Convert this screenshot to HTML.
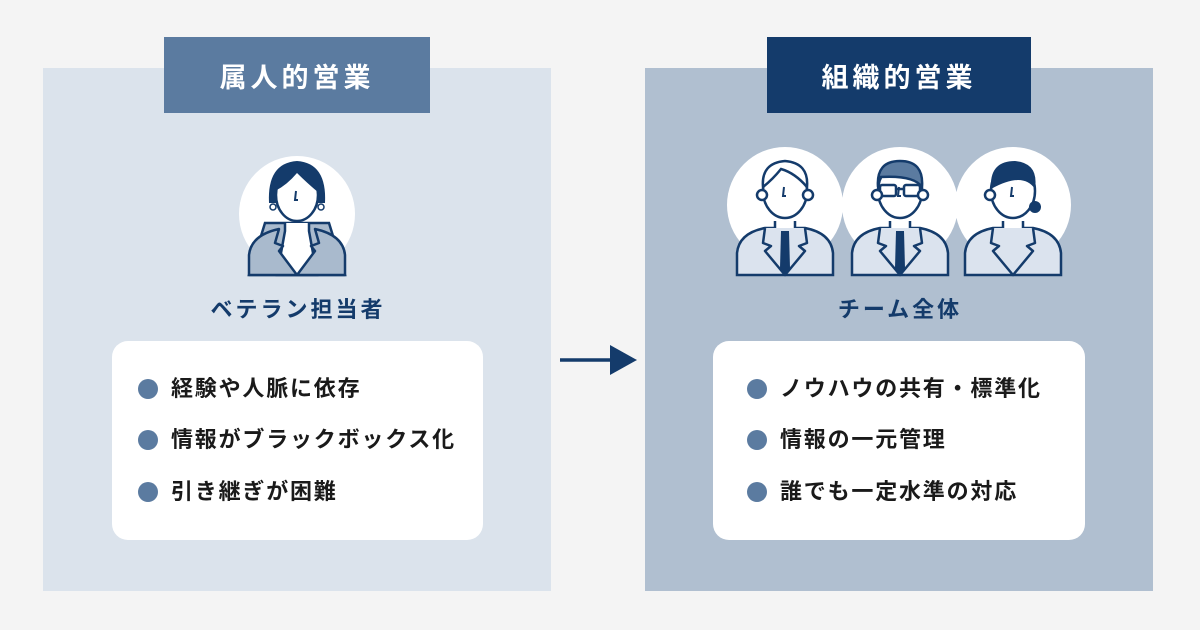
<!DOCTYPE html>
<html><head><meta charset="utf-8"><style>
body{margin:0;width:1200px;height:630px;background:#f4f4f4;position:relative;overflow:hidden;font-family:"Liberation Sans","Noto Sans CJK JP",sans-serif;font-weight:700}
.abs{position:absolute}
.panel{top:68px;width:508px;height:523px}
.hdr{top:37px;height:76px;color:#fff;font-size:27px;letter-spacing:4px;display:flex;align-items:center;justify-content:center}
.lbl{top:292px;font-size:22px;letter-spacing:3px;color:#143b6b;text-align:center;width:300px}
.box{top:341px;height:199px;background:#fff;border-radius:16px}
.item{position:absolute;font-size:22px;letter-spacing:1.8px;color:#1a1a1a;line-height:30px}
.item:before{content:"";position:absolute;left:-33px;top:5px;width:20px;height:20px;border-radius:50%;background:#5b7ba0}
</style></head><body>
<div class="abs panel" style="left:43px;background:#dbe3ec"></div>
<div class="abs panel" style="left:645px;background:#b0bfd0"></div>
<div class="abs hdr" style="left:164px;width:266px;background:#5b7ba0">属人的営業</div>
<div class="abs hdr" style="left:767px;width:264px;background:#143b6b">組織的営業</div>

<svg class="abs" style="left:0;top:0" width="1200" height="630" viewBox="0 0 1200 630">
<defs>
<g id="body">
<path d="M-48,62 L-48,40 Q-46,20 -20,15 L20,15 Q46,20 48,40 L48,62 Z" fill="#dbe3ee" stroke="#143b6b" stroke-width="2.5"/>
<path d="M-10,8 L-10,18 L10,18 L10,8" fill="#fff" stroke="#143b6b" stroke-width="2.5"/>
<path d="M-20,15 L-22,30 L-14,33 L-20,38 L0,62 L20,38 L14,33 L22,30 L20,15" fill="#dbe3ee" stroke="#143b6b" stroke-width="2.5" stroke-linejoin="round"/>
</g>
<g id="head">
<ellipse cx="0" cy="-22" rx="22" ry="27" fill="#fff" stroke="#143b6b" stroke-width="2.5"/>
<path d="M-1,-26 L-2,-17 L1,-17" fill="none" stroke="#143b6b" stroke-width="2"/>
</g>
</defs>
<!-- left person -->
<circle cx="297" cy="214" r="58" fill="#fff"/>
<g transform="translate(297,213)">
<path d="M-28,-10 Q-30,-50 0,-52 Q30,-50 28,-10 Z" fill="#143b6b"/>
<path d="M-32,10 L-48,62 L48,62 L32,10 Z" fill="#a9bacd" stroke="#143b6b" stroke-width="2.5"/>
<path d="M-12,10 L-12,18 L-20,62 L20,62 L12,18 L12,10" fill="#fff" stroke="#143b6b" stroke-width="2.5"/>
<path d="M-48,62 L-48,42 Q-46,22 -18,16 L-22,30 L-14,33 L-18,38 L0,62 Z M48,62 L48,42 Q46,22 18,16 L22,30 L14,33 L18,38 L0,62 Z" fill="#a9bacd" stroke="#143b6b" stroke-width="2.5" stroke-linejoin="round"/>
<ellipse cx="0" cy="-18" rx="21" ry="26" fill="#fff" stroke="#143b6b" stroke-width="2.5"/>
<path d="M-22,-22 Q-18,-48 2,-46 Q22,-44 22,-20 Q10,-30 0,-40 Q-10,-28 -22,-22Z" fill="#143b6b"/>
<circle cx="-24" cy="-6" r="3" fill="#fff" stroke="#143b6b" stroke-width="1.5"/>
<circle cx="24" cy="-6" r="3" fill="#fff" stroke="#143b6b" stroke-width="1.5"/>
<path d="M-1,-22 L-2,-13 L1,-13" fill="none" stroke="#143b6b" stroke-width="2"/>
</g>
<!-- right persons -->
<circle cx="785" cy="205" r="58" fill="#fff"/>
<circle cx="900" cy="205" r="58" fill="#fff"/>
<circle cx="1013" cy="205" r="58" fill="#fff"/>
<g transform="translate(785,213)">
<use href="#body"/><path d="M-4,18 L4,18 L5,55 L0,61 L-5,55Z" fill="#143b6b"/>
<use href="#head"/>
<path d="M-22,-26 Q-24,-50 0,-52 Q24,-50 22,-26 Q10,-40 -4,-44 Q-12,-34 -22,-26Z" fill="#fff" stroke="#143b6b" stroke-width="2.5"/>
<circle cx="-23" cy="-18" r="5" fill="#fff" stroke="#143b6b" stroke-width="2.5"/><circle cx="23" cy="-18" r="5" fill="#fff" stroke="#143b6b" stroke-width="2.5"/>
</g>
<g transform="translate(900,213)">
<use href="#body"/><path d="M-4,18 L4,18 L5,55 L0,61 L-5,55Z" fill="#143b6b"/>
<use href="#head"/>
<path d="M-22,-26 Q-24,-52 0,-52 Q24,-52 22,-26 Q14,-38 -20,-36 Z" fill="#5b7ba0" stroke="#143b6b" stroke-width="2.5"/>
<rect x="-20" y="-28" width="16" height="11" rx="2" fill="none" stroke="#143b6b" stroke-width="2.5"/>
<rect x="4" y="-28" width="16" height="11" rx="2" fill="none" stroke="#143b6b" stroke-width="2.5"/>
<line x1="-4" y1="-24" x2="4" y2="-24" stroke="#143b6b" stroke-width="2.5"/>
<circle cx="-23" cy="-18" r="5" fill="#fff" stroke="#143b6b" stroke-width="2.5"/><circle cx="23" cy="-18" r="5" fill="#fff" stroke="#143b6b" stroke-width="2.5"/>
</g>
<g transform="translate(1013,213)">
<use href="#body"/>
<use href="#head"/>
<path d="M-22,-24 Q-24,-52 2,-52 Q26,-50 22,-24 Q10,-42 -22,-24Z" fill="#143b6b"/>
<circle cx="22" cy="-6" r="6" fill="#143b6b"/>
<circle cx="-23" cy="-18" r="5" fill="#fff" stroke="#143b6b" stroke-width="2.5"/>
</g>
<!-- arrow -->
<line x1="560" y1="360" x2="612" y2="360" stroke="#143b6b" stroke-width="3.5"/>
<polygon points="610,345 637,360 610,375" fill="#143b6b"/>
</svg>

<div class="abs lbl" style="left:148px">ベテラン担当者</div>
<div class="abs lbl" style="left:750px">チーム全体</div>

<div class="abs box" style="left:112px;width:371px">
<div class="item" style="left:59px;top:33px">経験や人脈に依存</div>
<div class="item" style="left:59px;top:84px">情報がブラックボックス化</div>
<div class="item" style="left:59px;top:136px">引き継ぎが困難</div>
</div>
<div class="abs box" style="left:713px;width:372px">
<div class="item" style="left:67px;top:33px">ノウハウの共有・標準化</div>
<div class="item" style="left:67px;top:84px">情報の一元管理</div>
<div class="item" style="left:67px;top:136px">誰でも一定水準の対応</div>
</div>
</body></html>
